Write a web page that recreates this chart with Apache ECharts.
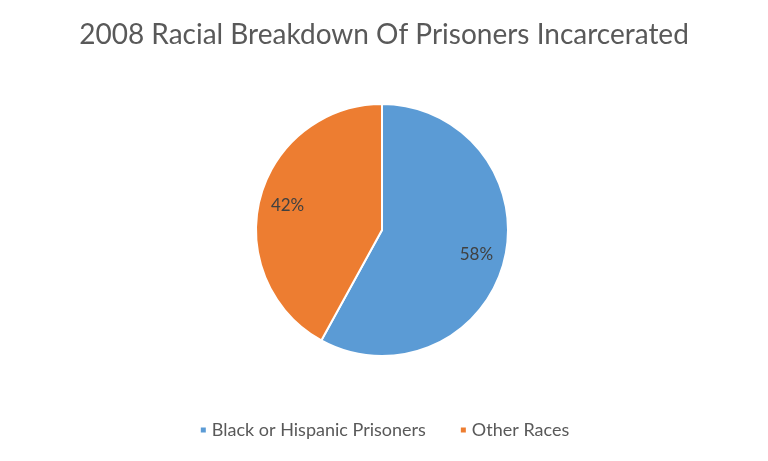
<!DOCTYPE html>
<html><head><meta charset="utf-8">
<script src="https://cdn.jsdelivr.net/npm/echarts@6/dist/echarts.min.js"></script>
<style>html,body{margin:0;padding:0;background:#fff}#c{width:768px;height:461px}</style>
</head><body><div id="c"></div>
<script>
const categories = ["Black or Hispanic Prisoners", "Other Races"];
const values = [58, 42];
const colors = ["#5B9BD5", "#ED7D31"];
const titleText = "2008 Racial Breakdown Of Prisoners Incarcerated";

const chart = echarts.init(document.getElementById('c'));
const data = categories.map((n, i) => ({ name: n, value: values[i], itemStyle: { color: colors[i] } }));
chart.setOption({
  animation: false,
  title: {
    text: titleText, left: 'center', top: 16,
    textStyle: { fontFamily: 'Lato', fontSize: 28, fontWeight: 'normal', color: '#595959' }
  },
  legend: {
    bottom: 17, left: 'center', icon: 'rect', itemWidth: 7, itemHeight: 7, itemGap: 33,
    textStyle: { fontFamily: 'Lato', fontSize: 18, color: '#595959' },
    data: categories
  },
  series: [{
    type: 'pie', center: [382, 230], radius: 126, startAngle: 90, clockwise: true,
    itemStyle: { borderColor: '#fff', borderWidth: 2 },
    label: { show: false }, labelLine: { show: false },
    data: data
  }, {
    type: 'pie', center: [382, 230], radius: [63, 126], startAngle: 90, clockwise: true, silent: true,
    itemStyle: { color: 'transparent', borderWidth: 0 },
    label: { show: true, position: 'inside', formatter: p => p.value + '%', fontFamily: 'Lato', fontSize: 17, color: '#404040' },
    labelLine: { show: false },
    data: categories.map((n, i) => ({ name: n + ' ', value: values[i], itemStyle: { color: 'transparent' } }))
  }]
});
</script></body></html>
